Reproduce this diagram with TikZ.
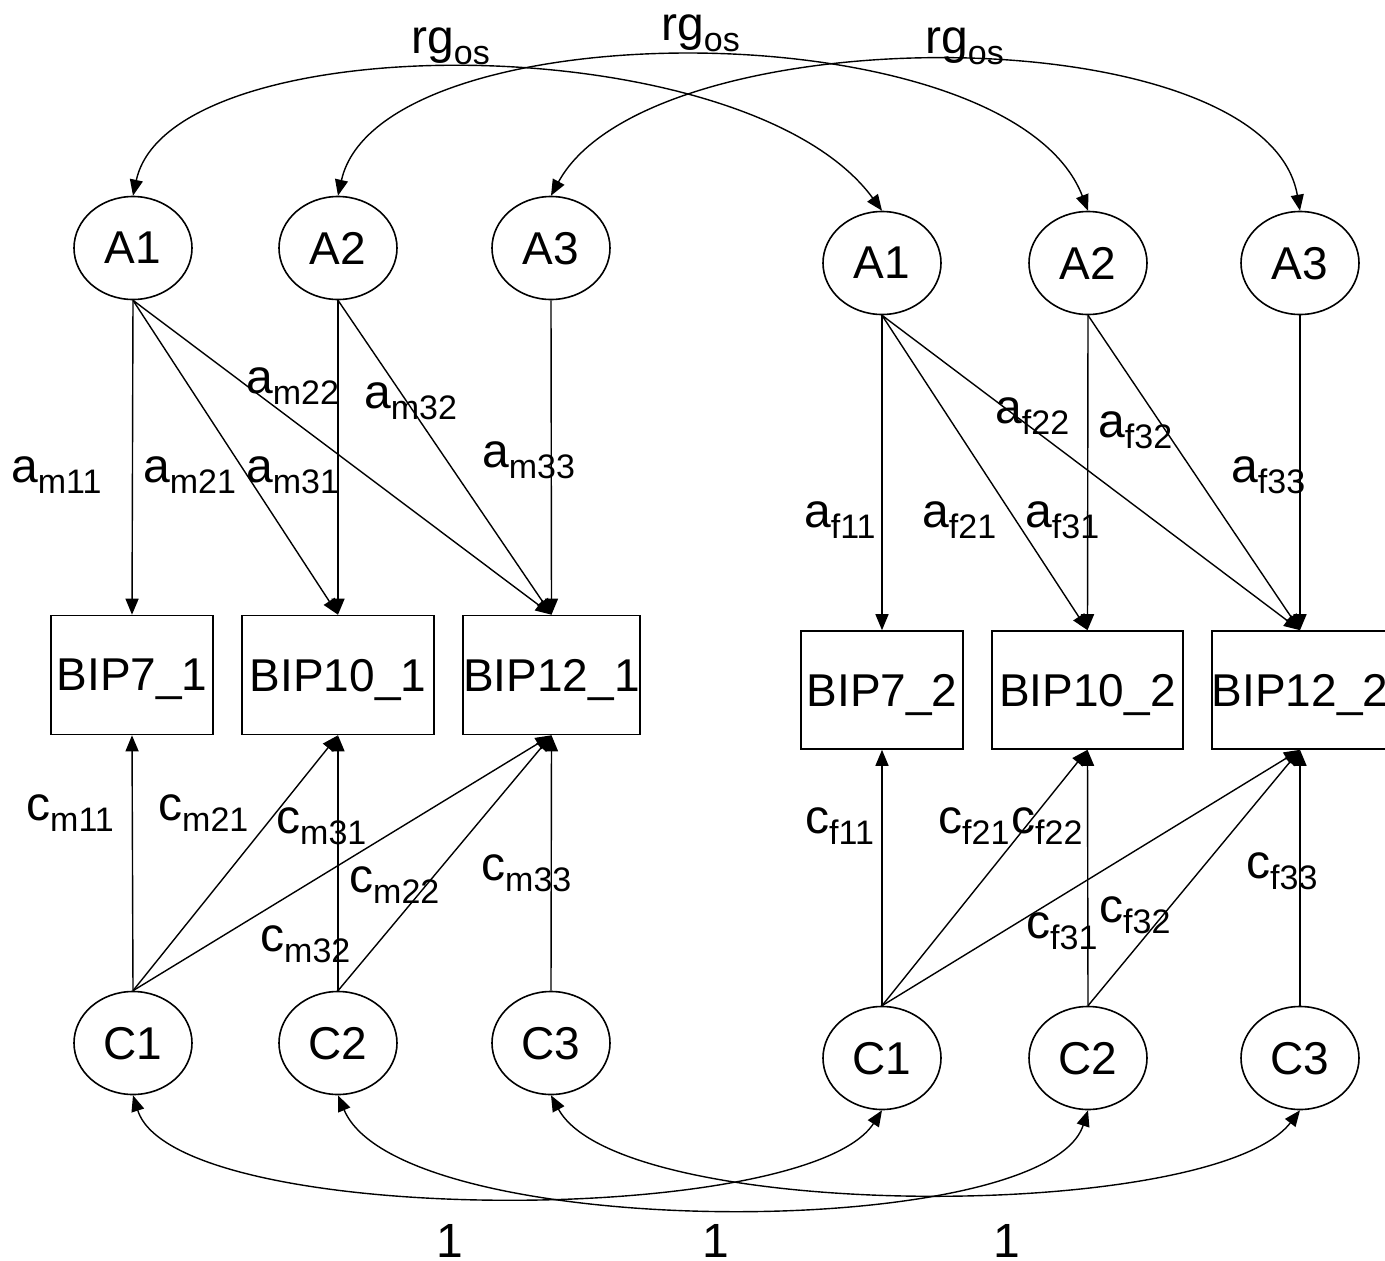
\documentclass[tikz,border=0pt]{standalone}
\usepackage{fontspec}
\setmainfont{Liberation Sans}
\usetikzlibrary{shapes.geometric,arrows.meta}
\newcommand{\lb}[2]{{\fontsize{48pt}{48pt}\selectfont #1}\raisebox{-11pt}{\fontsize{34pt}{34pt}\selectfont #2}}
\tikzset{
  ell/.style={ellipse,draw,line width=1.6pt,minimum width=118pt,minimum height=103pt,inner sep=0pt,font=\fontsize{46pt}{46pt}\selectfont,text depth=0pt},
  boxn/.style={rectangle,draw,line width=1.6pt,minimum height=119pt,inner sep=0pt,font=\fontsize{46pt}{46pt}\selectfont,text depth=0pt},
  conn/.style={line width=1.4pt,-{Triangle[length=16pt,width=13pt]}},
  dconn/.style={line width=1.4pt,{Triangle[length=16pt,width=13pt]}-{Triangle[length=16pt,width=13pt]}},
  lbl/.style={anchor=base west,inner sep=0pt},
  onel/.style={anchor=base,inner sep=0pt,font=\fontsize{48pt}{48pt}\selectfont},
}
\begin{document}
\begin{tikzpicture}[x=1pt,y=-1pt]
\useasboundingbox (0,0) rectangle (1385,1261);
% latent A
\node[ell] (A1m) at (133,248) {A1};
\node[ell] (A2m) at (338,248) {A2};
\node[ell] (A3m) at (551,248) {A3};
\node[ell] (A1f) at (882,263) {A1};
\node[ell] (A2f) at (1088,263) {A2};
\node[ell] (A3f) at (1300,263) {A3};
% latent C
\node[ell] (C1m) at (133,1043) {C1};
\node[ell] (C2m) at (338,1043) {C2};
\node[ell] (C3m) at (551,1043) {C3};
\node[ell] (C1f) at (882,1058) {C1};
\node[ell] (C2f) at (1088,1058) {C2};
\node[ell] (C3f) at (1300,1058) {C3};
% observed
\node[boxn,minimum width=162pt] (B7m) at (132,675) {BIP7\_1};
\node[boxn,minimum width=192pt] (B10m) at (338,675) {BIP10\_1};
\node[boxn,minimum width=177pt] (B12m) at (551.5,675) {BIP12\_1};
\node[boxn,minimum width=162pt,minimum height=118pt] (B7f) at (882,690) {BIP7\_2};
\node[boxn,minimum width=191pt,minimum height=118pt] (B10f) at (1087.5,690) {BIP10\_2};
\node[boxn,minimum width=176pt,minimum height=118pt] (B12f) at (1300,690) {BIP12\_2};
% A paths (twin 1)
\draw[conn] (A1m.south) -- (B7m.north);
\draw[conn] (A1m.south) -- (B10m.north);
\draw[conn] (A1m.south) -- (B12m.north);
\draw[conn] (A2m.south) -- (B10m.north);
\draw[conn] (A2m.south) -- (B12m.north);
\draw[conn] (A3m.south) -- (B12m.north);
% A paths (twin 2)
\draw[conn] (A1f.south) -- (B7f.north);
\draw[conn] (A1f.south) -- (B10f.north);
\draw[conn] (A1f.south) -- (B12f.north);
\draw[conn] (A2f.south) -- (B10f.north);
\draw[conn] (A2f.south) -- (B12f.north);
\draw[conn] (A3f.south) -- (B12f.north);
% C paths (twin 1)
\draw[conn] (C1m.north) -- (B7m.south);
\draw[conn] (C1m.north) -- (B10m.south);
\draw[conn] (C1m.north) -- (B12m.south);
\draw[conn] (C2m.north) -- (B10m.south);
\draw[conn] (C2m.north) -- (B12m.south);
\draw[conn] (C3m.north) -- (B12m.south);
% C paths (twin 2)
\draw[conn] (C1f.north) -- (B7f.south);
\draw[conn] (C1f.north) -- (B10f.south);
\draw[conn] (C1f.north) -- (B12f.south);
\draw[conn] (C2f.north) -- (B10f.south);
\draw[conn] (C2f.north) -- (B12f.south);
\draw[conn] (C3f.north) -- (B12f.south);
% top correlations
\draw[dconn] (A1m.north) .. controls (170,24) and (745,24) .. (A1f.north);
\draw[dconn] (A2m.north) .. controls (380,8) and (1010,8) .. (A2f.north);
\draw[dconn] (A3m.north) .. controls (650,14) and (1266,14) .. (A3f.north);
% bottom correlations
\draw[dconn] (C1m.south) .. controls (175,1228) and (806,1228) .. (C1f.south);
\draw[dconn] (C2m.south) .. controls (400,1243) and (1045,1243) .. (C2f.south);
\draw[dconn] (C3m.south) .. controls (620,1223) and (1213,1223) .. (C3f.south);
% labels
\node[lbl] (lrg1) at (411,53) {\lb{rg}{os}};
\node[lbl] (lrg2) at (661,40) {\lb{rg}{os}};
\node[lbl] (lrg3) at (925,53) {\lb{rg}{os}};
\node[lbl] (am11) at (11,482) {\lb{a}{m11}};
\node[lbl] (am21) at (143,482) {\lb{a}{m21}};
\node[lbl] (am31) at (246,482) {\lb{a}{m31}};
\node[lbl] (am22) at (246,393) {\lb{a}{m22}};
\node[lbl] (am32) at (364,408) {\lb{a}{m32}};
\node[lbl] (am33) at (482,467) {\lb{a}{m33}};
\node[lbl] (af11) at (804,527) {\lb{a}{f11}};
\node[lbl] (af21) at (922,527) {\lb{a}{f21}};
\node[lbl] (af31) at (1025,527) {\lb{a}{f31}};
\node[lbl] (af22) at (995,423) {\lb{a}{f22}};
\node[lbl] (af32) at (1098,437) {\lb{a}{f32}};
\node[lbl] (af33) at (1231,482) {\lb{a}{f33}};
\node[lbl] (cm11) at (26,820) {\lb{c}{m11}};
\node[lbl] (cm21) at (158,820) {\lb{c}{m21}};
\node[lbl] (cm31) at (276,833) {\lb{c}{m31}};
\node[lbl] (cm22) at (349,892) {\lb{c}{m22}};
\node[lbl] (cm33) at (481,880) {\lb{c}{m33}};
\node[lbl] (cm32) at (260,951) {\lb{c}{m32}};
\node[lbl] (cf11) at (805,833) {\lb{c}{f11}};
\node[lbl] (cf21) at (938,833) {\lb{c}{f21}};
\node[lbl] (cf22) at (1011,833) {\lb{c}{f22}};
\node[lbl] (cf33) at (1246,878) {\lb{c}{f33}};
\node[lbl] (cf32) at (1099,922) {\lb{c}{f32}};
\node[lbl] (cf31) at (1026,938) {\lb{c}{f31}};
\node[onel] (one1) at (450,1257) {1};
\node[onel] (one2) at (716,1257) {1};
\node[onel] (one3) at (1007,1257) {1};
\end{tikzpicture}
\end{document}
